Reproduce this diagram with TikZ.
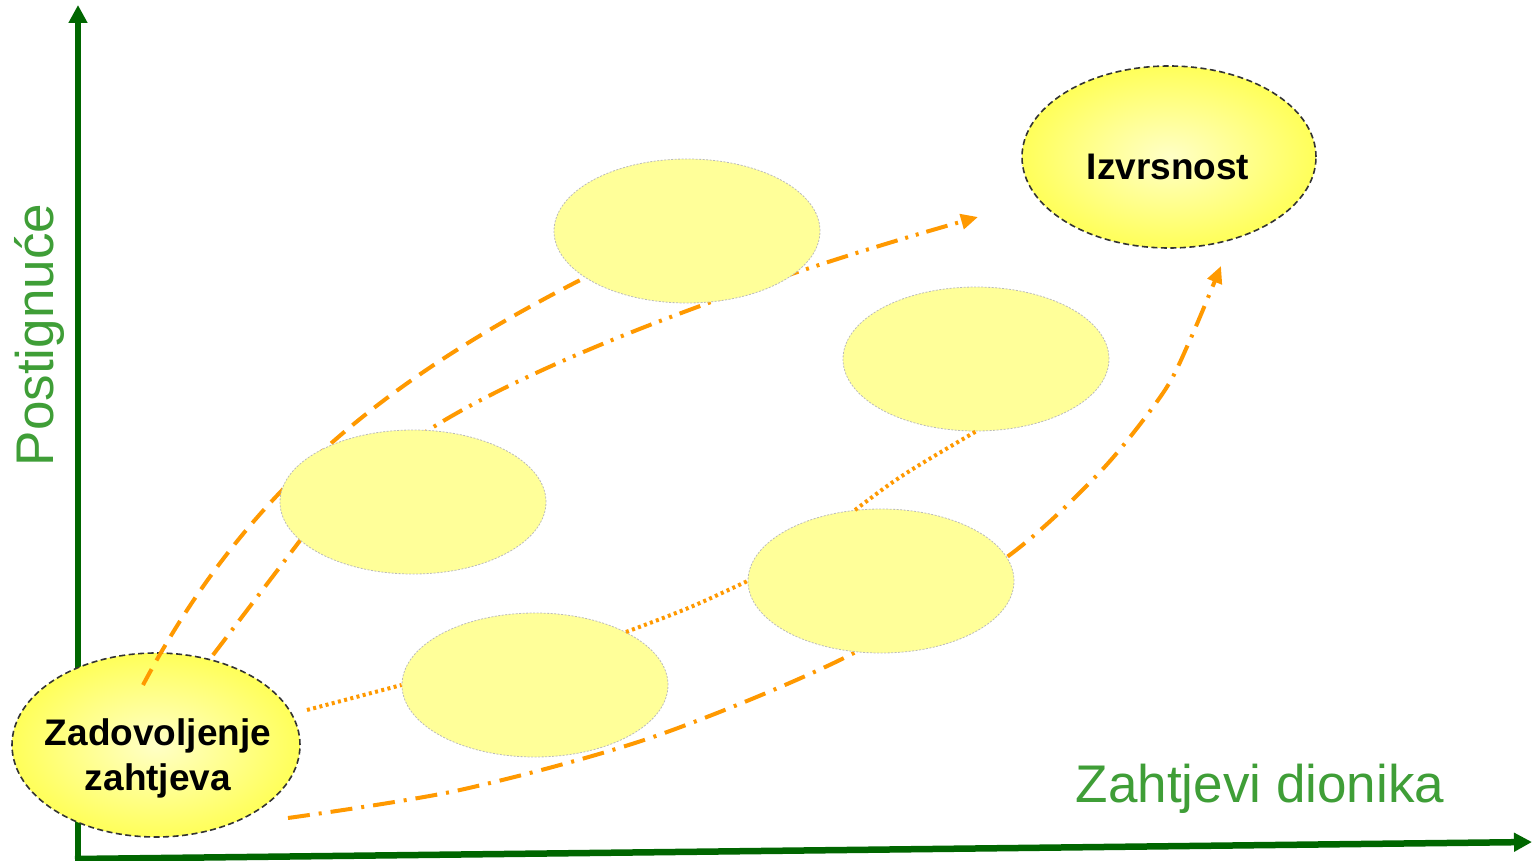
\documentclass[tikz,border=0pt]{standalone}
\usepackage{fontspec}
\setmainfont{Liberation Sans}
\usetikzlibrary{shapes.geometric,arrows.meta}
\definecolor{axgreen}{HTML}{006600}
\definecolor{txgreen}{HTML}{3F9E37}
\definecolor{orng}{HTML}{FF9900}
\definecolor{paleyel}{HTML}{FFFF99}
\definecolor{ringgray}{HTML}{BBBBBB}
\tikzset{
  smallell/.style={ellipse, draw=ringgray, dash pattern=on 2pt off 1.5pt, line width=0.8pt,
    fill=paleyel, minimum width=266pt, minimum height=144pt, inner sep=0pt},
  bigell/.style={ellipse, draw=black!80, dash pattern=on 6pt off 3.5pt, line width=1.6pt,
    inner color=yellow!22!white, outer color=yellow!65!white, inner sep=0pt},
  bigtxt/.style={font=\fontsize{37}{45}\selectfont\bfseries, align=center, text=black},
  axistxt/.style={font=\fontsize{53}{60}\selectfont, text=txgreen},
  axisline/.style={axgreen, line width=6.5pt, -{Triangle[length=18pt,width=18pt]}},
  oline/.style={orng, line width=4pt},
  odashed/.style={oline, dash pattern=on 18pt off 10pt},
  odashdot/.style={oline, dash pattern=on 22pt off 9pt on 3pt off 9pt},
  odashdotdot/.style={oline, dash pattern=on 22pt off 8pt on 3pt off 8pt on 3pt off 8pt},
  odotted/.style={oline, dash pattern=on 3pt off 3.4pt},
  otip/.style={-{Triangle[length=17pt,width=15pt]}}
}
\begin{document}
\begin{tikzpicture}[x=1pt,y=-1pt]
\useasboundingbox (0,0) rectangle (1532,861);
\fill[white] (0,0) rectangle (1532,861);

% axes
\coordinate (o) at (78,858);
\coordinate (ytop) at (78,5);
\coordinate (xo) at (75,859);
\coordinate (xend) at (1532,842);
\draw[axisline] (o) -- (ytop);
\draw[axisline] (xo) -- (xend);

% axis labels
\node[axistxt, rotate=90, anchor=base] (ylab) at (53,335) {Postignuće};
\node[axistxt, anchor=base] (xlab) at (1260,802) {Zahtjevi dionika};

% start ellipse
\node[bigell, minimum width=288pt, minimum height=184pt] (z) at (156,745) {};

% connectors (drawn beneath the small ellipses)
\coordinate (s1) at (143,685);
\coordinate (t1) at (600,270);
\draw[odashed] (s1) .. controls (245,493) and (380,380) .. (t1);

\coordinate (s2) at (213,655);
\coordinate (t2) at (340,488);
\draw[odashdot] (s2) -- (t2);

\coordinate (s3) at (400,450);
\coordinate (a1) at (978,217);
\draw[odashdotdot, otip] (s3) .. controls (490,380) and (720,290) .. (a1);

\coordinate (s4) at (288,818);
\coordinate (a2) at (1221,266);
\draw[odashdot, otip] plot[smooth] coordinates {(s4) (460,790) (653,737) (850,655)
  (1007,557) (1100,472) (1163,393) (1190,340) (a2)};

% small ellipses
\node[smallell] (e1) at (687,231) {};
\node[smallell] (e2) at (413,502) {};
\node[smallell] (e3) at (976,359) {};
\node[smallell] (e4) at (535,685) {};
\node[smallell] (e5) at (881,581) {};

% dotted links
\coordinate (d0) at (307,710);
\coordinate (d1) at (626,632);
\coordinate (d2) at (855,510);
\draw[odotted] (d0) -- (e4.west);
\draw[odotted] (d1) .. controls (690,608) .. (e5.west);
\draw[odotted] (d2) .. controls (900,476) .. (e3.south);

% goal ellipse
\node[bigell, minimum width=294pt, minimum height=182pt] (iz) at (1169,157) {};

% texts
\node[bigtxt] (zt) at (158,758) {Zadovoljenje\\zahtjeva};
\node[bigtxt] (izt) at (1168,167) {Izvrsnost};
\end{tikzpicture}
\end{document}
